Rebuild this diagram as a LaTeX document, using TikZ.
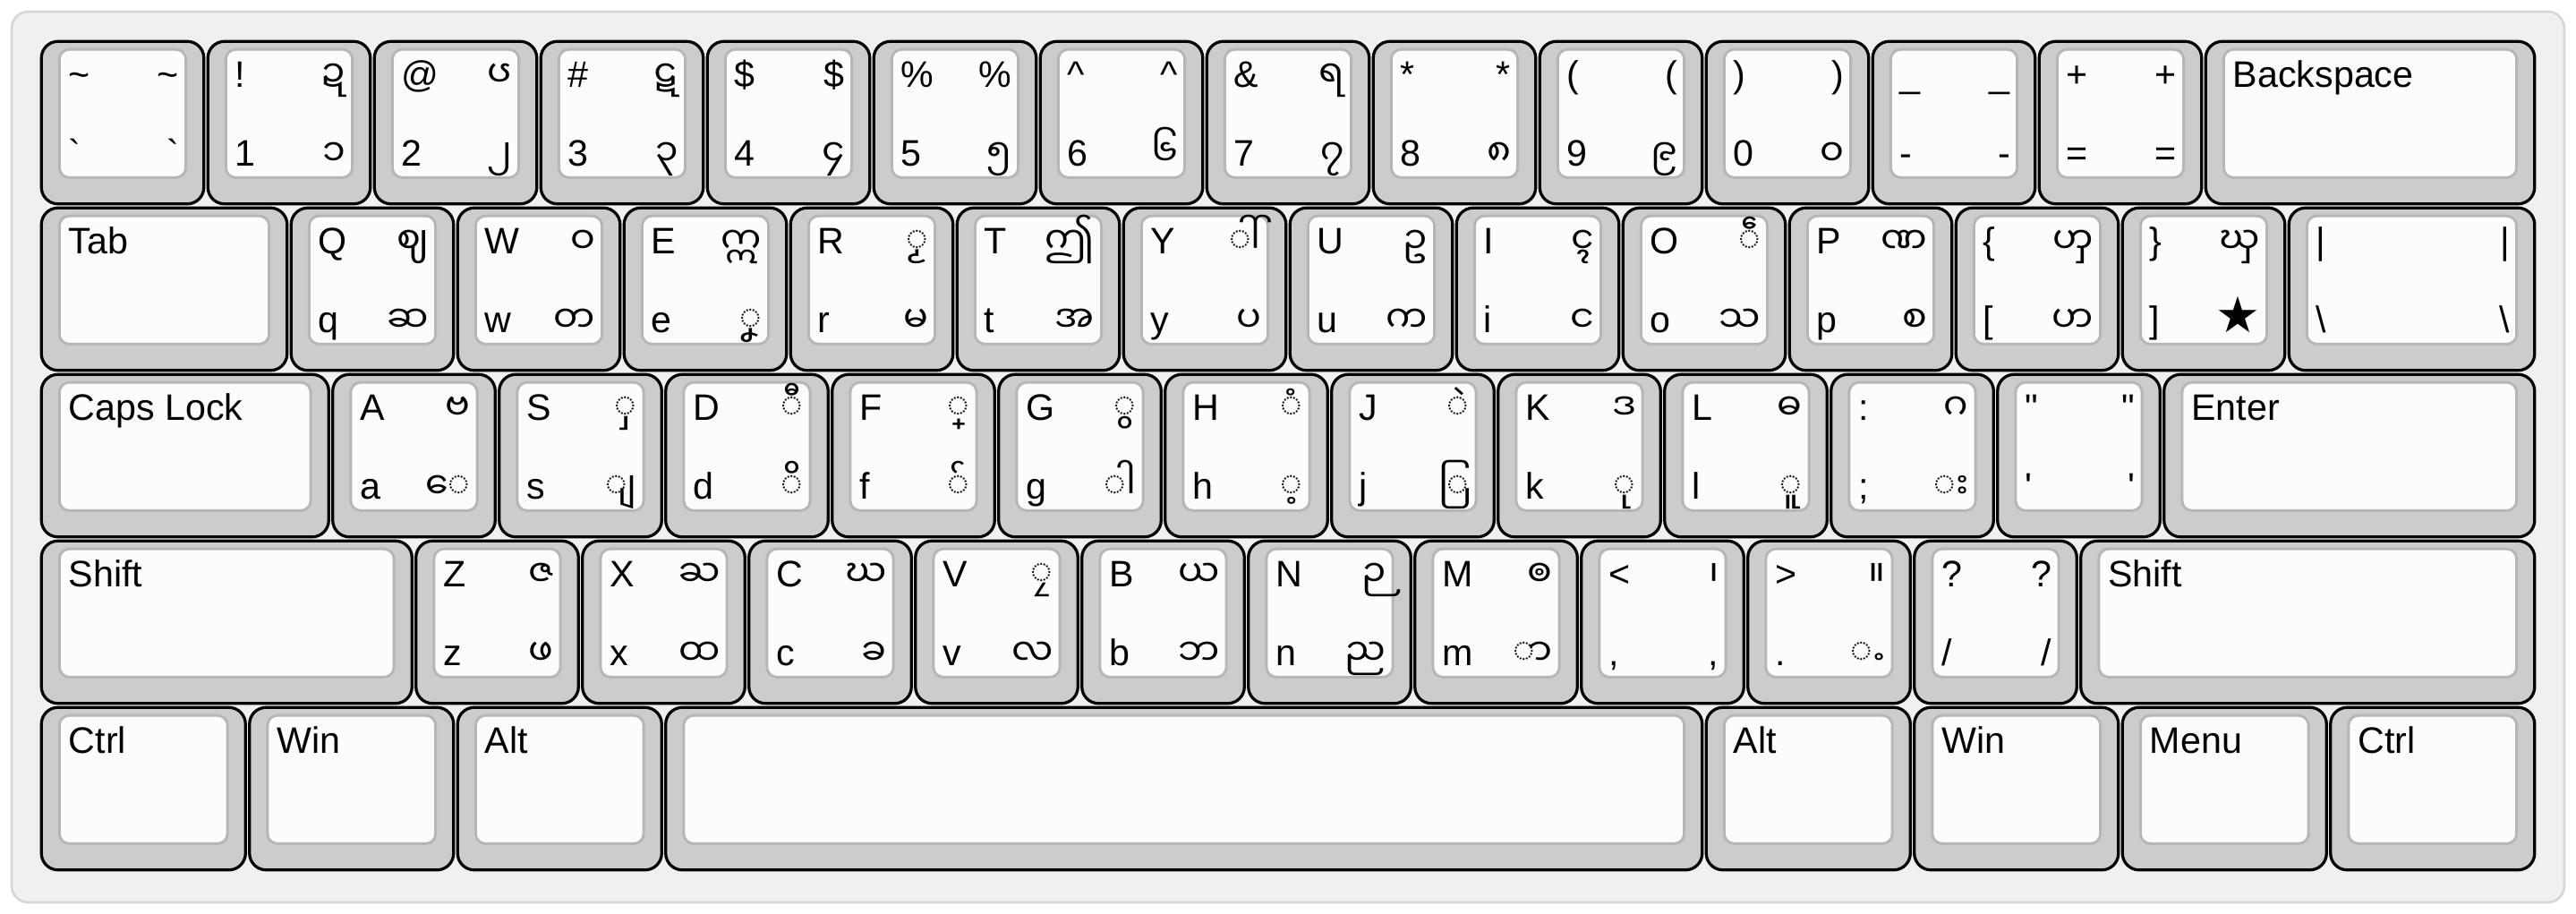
\documentclass[tikz,border=0pt]{standalone}
\usepackage{fontspec}
\usetikzlibrary{positioning}
\newfontfamily\keyfont{Liberation Sans}
\newfontfamily\mmfont[Script=Myanmar]{Noto Sans Myanmar UI}
\newfontfamily\symfont{DejaVu Sans}
\definecolor{boardback}{HTML}{F0F0F0}
\definecolor{boardline}{HTML}{D6D6D6}
\definecolor{keyback}{HTML}{CCCCCC}
\definecolor{capback}{HTML}{FCFCFC}
\definecolor{capline}{HTML}{B6B6B6}
\tikzset{
  board/.style={draw=boardline, line width=0.4pt, fill=boardback, rounded corners=1mm},
  keyouter/.style={draw=black, line width=0.5pt, fill=keyback, rounded corners=1mm},
  keyinner/.style={draw=capline, line width=0.45pt, fill=capback, rounded corners=0.6mm},
  lgd/.style={inner sep=0pt, font=\keyfont\fontsize{6.3}{7}\selectfont}
}
\newcommand{\mm}[1]{{\mmfont #1}}
% key with four legends: name, x, row, top left, top right, bottom left, bottom right
\newcommand{\charkey}[7]{%
  \draw[keyouter] (#2+0.012,-#3-0.012) rectangle (#2+0.988,-#3-0.988);
  \draw[keyinner] (#2+0.12,-#3-0.06) rectangle (#2+0.88,-#3-0.83);
  \node[lgd, anchor=base west] (#1-tl) at (#2+0.17,-#3-0.29) {#4};
  \node[lgd, anchor=base east] (#1-tr) at (#2+0.845,-#3-0.29) {#5};
  \node[lgd, anchor=base west] (#1-bl) at (#2+0.17,-#3-0.76) {#6};
  \node[lgd, anchor=base east] (#1-br) at (#2+0.845,-#3-0.76) {#7};
}
% wide key with one legend: name, x, row, width, label
\newcommand{\widekey}[5]{%
  \draw[keyouter] (#2+0.012,-#3-0.012) rectangle (#2+#4-0.012,-#3-0.988);
  \draw[keyinner] (#2+0.12,-#3-0.06) rectangle (#2+#4-0.12,-#3-0.83);
  \node[lgd, anchor=base west] (#1) at (#2+0.17,-#3-0.29) {#5};
}

\begin{document}
\begin{tikzpicture}[x=1cm,y=1cm]
  \useasboundingbox (-0.2366,0.2366) rectangle (15.2366,-5.2473);
  %draw board
  \draw[board] (-0.1667,0.1667) rectangle (15.1667,-5.183);

  %number row
  \charkey{grave}{0}{0}{\textasciitilde}{\textasciitilde}{`}{`}
  \charkey{one}{1}{0}{!}{\mm{ဍ}}{1}{\mm{၁}}
  \charkey{two}{2}{0}{@}{\mm{ၒ}}{2}{\mm{၂}}
  \charkey{three}{3}{0}{\#}{\mm{ဋ}}{3}{\mm{၃}}
  \charkey{four}{4}{0}{\$}{\$}{4}{\mm{၄}}
  \charkey{five}{5}{0}{\%}{\%}{5}{\mm{၅}}
  \charkey{six}{6}{0}{\textasciicircum}{\textasciicircum}{6}{\mm{၆}}
  \charkey{seven}{7}{0}{\&}{\mm{ရ}}{7}{\mm{၇}}
  \charkey{eight}{8}{0}{*}{*}{8}{\mm{၈}}
  \charkey{nine}{9}{0}{(}{(}{9}{\mm{၉}}
  \charkey{zero}{10}{0}{)}{)}{0}{\mm{၀}}
  \charkey{minus}{11}{0}{\_}{\_}{-}{-}
  \charkey{equal}{12}{0}{+}{+}{=}{=}
  \widekey{backspace}{13}{0}{2}{Backspace}

  %top letter row
  \widekey{tab}{0}{1}{1.5}{Tab}
  \charkey{q}{1.5}{1}{Q}{\mm{ဈ}}{q}{\mm{ဆ}}
  \charkey{w}{2.5}{1}{W}{\mm{ဝ}}{w}{\mm{တ}}
  \charkey{e}{3.5}{1}{E}{\mm{ဣ}}{e}{\mm{◌ၞ}}
  \charkey{r}{4.5}{1}{R}{\mm{◌ၟ}}{r}{\mm{မ}}
  \charkey{t}{5.5}{1}{T}{\mm{ဤ}}{t}{\mm{အ}}
  \charkey{y}{6.5}{1}{Y}{\mm{◌ါ်}}{y}{\mm{ပ}}
  \charkey{u}{7.5}{1}{U}{\mm{ဥ}}{u}{\mm{က}}
  \charkey{i}{8.5}{1}{I}{\mm{ၚ}}{i}{\mm{င}}
  \charkey{o}{9.5}{1}{O}{\mm{◌ဵ}}{o}{\mm{သ}}
  \charkey{p}{10.5}{1}{P}{\mm{ဏ}}{p}{\mm{စ}}
  \charkey{lbrack}{11.5}{1}{\{}{\mm{ၯ}}{[}{\mm{ဟ}}
  \charkey{rbrack}{12.5}{1}{\}}{\mm{ၰ}}{]}{{\symfont\fontsize{8.5}{9}\selectfont ★}}
  \widekey{bslash}{13.5}{1}{1.5}{}
  \node[lgd, anchor=base west] (bslash-tl) at (13.67,-1.29) {|};
  \node[lgd, anchor=base east] (bslash-tr) at (14.845,-1.29) {|};
  \node[lgd, anchor=base west] (bslash-bl) at (13.67,-1.76) {\textbackslash};
  \node[lgd, anchor=base east] (bslash-br) at (14.845,-1.76) {\textbackslash};

  %home row
  \widekey{caps}{0}{2}{1.75}{Caps Lock}
  \charkey{a}{1.75}{2}{A}{\mm{ဗ}}{a}{\mm{◌ေ}}
  \charkey{s}{2.75}{2}{S}{\mm{◌ှ}}{s}{\mm{◌ျ}}
  \charkey{d}{3.75}{2}{D}{\mm{◌ီ}}{d}{\mm{◌ိ}}
  \charkey{f}{4.75}{2}{F}{\mm{◌္}}{f}{\mm{◌်}}
  \charkey{g}{5.75}{2}{G}{\mm{◌ွ}}{g}{\mm{◌ါ}}
  \charkey{h}{6.75}{2}{H}{\mm{◌ံ}}{h}{\mm{◌့}}
  \charkey{j}{7.75}{2}{J}{\mm{◌ဲ}}{j}{\mm{◌ြ}}
  \charkey{k}{8.75}{2}{K}{\mm{ဒ}}{k}{\mm{◌ု}}
  \charkey{l}{9.75}{2}{L}{\mm{ဓ}}{l}{\mm{◌ူ}}
  \charkey{semi}{10.75}{2}{:}{\mm{ဂ}}{;}{\mm{◌း}}
  \charkey{quote}{11.75}{2}{"}{"}{'}{'}
  \widekey{enter}{12.75}{2}{2.25}{Enter}

  %bottom letter row
  \widekey{lshift}{0}{3}{2.25}{Shift}
  \charkey{z}{2.25}{3}{Z}{\mm{ဇ}}{z}{\mm{ဖ}}
  \charkey{x}{3.25}{3}{X}{\mm{ႀ}}{x}{\mm{ထ}}
  \charkey{c}{4.25}{3}{C}{\mm{ဃ}}{c}{\mm{ခ}}
  \charkey{v}{5.25}{3}{V}{\mm{◌ၠ}}{v}{\mm{လ}}
  \charkey{b}{6.25}{3}{B}{\mm{ယ}}{b}{\mm{ဘ}}
  \charkey{n}{7.25}{3}{N}{\mm{ဉ}}{n}{\mm{ည}}
  \charkey{m}{8.25}{3}{M}{\mm{ၜ}}{m}{\mm{◌ာ}}
  \charkey{comma}{9.25}{3}{<}{\mm{၊}}{,}{,}
  \charkey{period}{10.25}{3}{>}{\mm{။}}{.}{\mm{◌ႉ}}
  \charkey{slash}{11.25}{3}{?}{?}{/}{/}
  \widekey{rshift}{12.25}{3}{2.75}{Shift}

  %space row
  \widekey{lctrl}{0}{4}{1.25}{Ctrl}
  \widekey{lwin}{1.25}{4}{1.25}{Win}
  \widekey{lalt}{2.5}{4}{1.25}{Alt}
  \widekey{space}{3.75}{4}{6.25}{}
  \widekey{ralt}{10}{4}{1.25}{Alt}
  \widekey{rwin}{11.25}{4}{1.25}{Win}
  \widekey{menu}{12.5}{4}{1.25}{Menu}
  \widekey{rctrl}{13.75}{4}{1.25}{Ctrl}
\end{tikzpicture}
\end{document}
